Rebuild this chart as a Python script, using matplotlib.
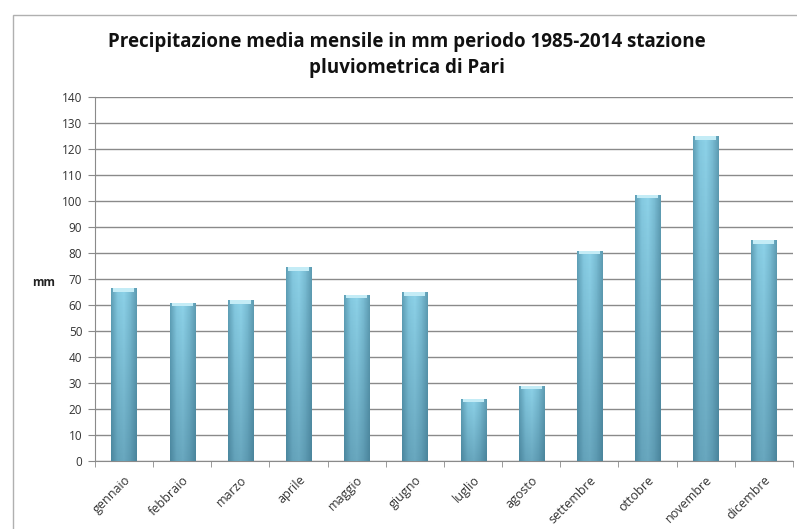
import matplotlib.pyplot as plt
import numpy as np
from matplotlib.patches import Rectangle
from matplotlib.colors import LinearSegmentedColormap

plt.rcParams['font.family'] = ['Open Sans', 'DejaVu Sans']

months = ['gennaio', 'febbraio', 'marzo', 'aprile', 'maggio', 'giugno',
          'luglio', 'agosto', 'settembre', 'ottobre', 'novembre', 'dicembre']
precip_mm = [66.5, 61, 62, 74.5, 64, 65, 24, 29, 81, 102.5, 125, 85]
yticks = list(range(0, 141, 10))

title = 'Precipitazione media mensile in mm periodo 1985-2014 stazione\npluviometrica di Pari'

fig = plt.figure(figsize=(7.97, 5.29), dpi=100)
ax = fig.add_axes([0.119, 0.1285, 0.876, 0.6875])

# chart area border (excel style)
fig.patches.append(Rectangle((13 / 797, -0.1), 1.2, 1 - 15 / 529 + 0.1,
                             transform=fig.transFigure, fill=False,
                             edgecolor='#b0b0b0', lw=1.0))

x = np.arange(len(months))
bars = ax.bar(x, precip_mm, width=0.43, color='#78bcd3', zorder=3)

# cylinder-like shading
cmap = LinearSegmentedColormap.from_list('cyl', ['#5f9fb6', '#84c9e0', '#8dd2e8', '#7abdd4', '#5e9cb2'])
grad = np.tile(np.linspace(0, 1, 64), (64, 1))
for b in bars:
    bx, by, bw, bh = b.get_x(), b.get_y(), b.get_width(), b.get_height()
    im = ax.imshow(grad, cmap=cmap, extent=(bx, bx + bw, by, by + bh),
                   aspect='auto', zorder=4, origin='lower')
    im.set_clip_path(b)
    # darker at the bottom
    rgba = np.zeros((64, 64, 4))
    rgba[..., 0], rgba[..., 1], rgba[..., 2] = 0.15, 0.35, 0.45
    rgba[..., 3] = np.linspace(0.35, 0, 64)[:, None]
    im2 = ax.imshow(rgba, extent=(bx, bx + bw, by, by + bh), aspect='auto',
                    zorder=5, origin='lower')
    im2.set_clip_path(b)
    # light top cap
    ax.add_patch(Rectangle((bx + bw * 0.08, by + bh - 1.4), bw * 0.84, 1.4,
                           facecolor='#c4ecf6', edgecolor='none', zorder=6))

ax.set_xlim(-0.5, len(months) - 0.5)
ax.set_ylim(0, 140)
ax.set_yticks(yticks)
ax.set_yticklabels([str(v) for v in yticks], fontsize=8.5, color='#333333')
ax.yaxis.grid(True, color='#8a8a8a', lw=1.0, zorder=0)
ax.set_axisbelow(True)

ax.set_xticks(x)
ax.set_xticklabels(months, rotation=45, ha='right', rotation_mode='anchor',
                   fontsize=9, color='#333333')
ax.tick_params(axis='x', length=0, pad=9)
ax.set_xticks(np.arange(-0.5, len(months)), minor=True)
ax.tick_params(axis='x', which='minor', length=4, color='#8a8a8a', direction='out')
ax.tick_params(axis='y', length=5, color='#8a8a8a', direction='out', pad=4)

for s in ['top', 'right']:
    ax.spines[s].set_visible(False)
ax.spines['left'].set_color('#8a8a8a')
ax.spines['bottom'].set_color('#8a8a8a')

fig.text(0.51, 1 - 55 / 529, title, ha='center', va='center',
         fontsize=13.5, fontweight='bold', linespacing=1.45, color='#111111')
fig.text(44 / 797, 1 - 282 / 529, 'mm', ha='center', va='center',
         fontsize=8.5, fontweight='bold', color='#222222')

fig.savefig('out.png', dpi=100)
